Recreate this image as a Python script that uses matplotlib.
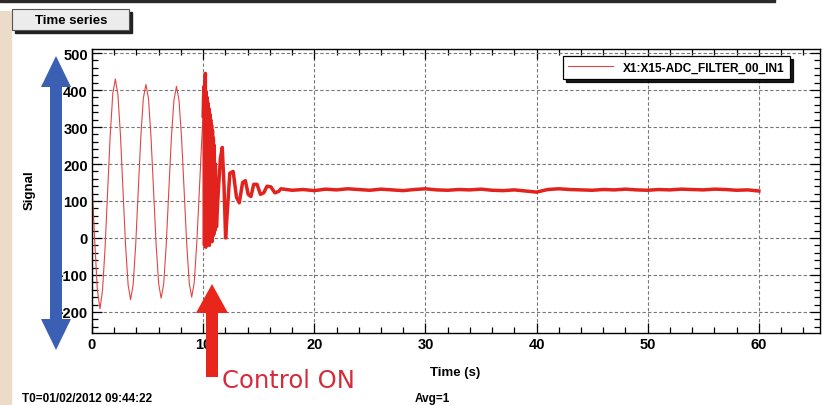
import matplotlib.pyplot as plt
from matplotlib.patches import Polygon, Rectangle
from matplotlib.ticker import MultipleLocator

plt.rcParams['font.family'] = ['Liberation Sans', 'DejaVu Sans']

# free oscillation before the controller is switched on
pre_t = [0.00, 0.24, 0.48, 0.72, 0.95, 1.18, 1.41, 1.64, 1.87, 2.10, 2.33, 2.56,
         2.79, 3.02, 3.25, 3.47, 3.70, 3.93, 4.16, 4.39, 4.62, 4.85, 5.08, 5.31,
         5.54, 5.77, 6.00, 6.22, 6.45, 6.68, 6.91, 7.14, 7.37, 7.60, 7.83, 8.06,
         8.29, 8.52, 8.75, 8.97, 9.20, 9.43, 9.66, 9.89, 10.00]
pre_v = [150, -5, -140, -192, -140, -25, 128, 278, 390, 430, 388, 278,
         128, -20, -127, -167, -127, -20, 128, 272, 378, 415, 378, 272,
         128, -18, -124, -163, -124, -18, 128, 270, 372, 410, 372, 270,
         128, -15, -122, -160, -120, -12, 130, 275, 330]

# transient after "Control ON"
trans_t = [10.00, 10.04, 10.08, 10.12, 10.16, 10.20, 10.24, 10.28, 10.32, 10.36,
           10.40, 10.44, 10.48, 10.52, 10.56, 10.60, 10.64, 10.68, 10.72, 10.76,
           10.80, 10.84, 10.88, 10.92, 10.96, 11.00, 11.05, 11.10, 11.20, 11.35,
           11.55, 11.72, 11.88, 12.02, 12.15, 12.40, 12.70, 13.00, 13.25, 13.55,
           13.80, 14.05, 14.30, 14.55, 14.85, 15.15, 15.45, 15.75, 16.10, 16.45,
           16.80]
trans_v = [330, 380, 410, -20, 405, 445, -25, 395, -20, 380,
           -15, 365, -10, 350, -20, 335, -5, 320, 0, 305,
           -10, 290, 5, 270, 10, 250, 20, 200, 30, 120,
           215, 245, 140, 0, 60, 175, 180, 110, 95, 150,
           155, 118, 112, 145, 145, 118, 122, 140, 138, 122,
           126]

# settled signal
steady_t = [17, 18, 19, 20, 21, 22, 23, 24, 25, 26, 27, 28, 29, 30, 31, 32, 33, 34,
            35, 36, 37, 38, 39, 40, 41, 42, 43, 44, 45, 46, 47, 48, 49, 50, 51, 52,
            53, 54, 55, 56, 57, 58, 59, 60]
steady_v = [133, 129, 131, 128, 132, 130, 133, 131, 129, 132, 130, 128, 131, 133,
            130, 129, 131, 130, 132, 129, 128, 130, 127, 124, 131, 133, 131, 130,
            129, 131, 130, 132, 130, 129, 131, 130, 132, 131, 130, 132, 131, 129,
            130, 127]

channel = "X1:X15-ADC_FILTER_00_IN1"
red = '#e2231d'

fig = plt.figure(figsize=(8.25, 4.06), dpi=100)
W, H = 825, 406
ax = fig.add_axes([92 / W, 1 - 334 / H, (820 - 92) / W, (334 - 50) / H])
ax.set_zorder(1)

ax.plot(pre_t, pre_v, color='#e24545', lw=0.8, label=channel)
ax.plot(trans_t + steady_t, trans_v + steady_v, color=red, lw=2.5, solid_joinstyle='round')

ax.set_xlim(0, 65.5)
ax.set_ylim(-257, 511)
ax.xaxis.set_major_locator(MultipleLocator(10))
ax.xaxis.set_minor_locator(MultipleLocator(2))
ax.yaxis.set_major_locator(MultipleLocator(100))
ax.yaxis.set_minor_locator(MultipleLocator(20))
ax.grid(True, which='major', color='#777777', lw=0.8, linestyle=(0, (3, 2)))
ax.tick_params(which='both', direction='in', top=True, right=True, width=0.9)
ax.tick_params(which='major', length=7, labelsize=10.5, pad=3)
ax.tick_params(which='minor', length=4)
for lab in ax.get_xticklabels() + ax.get_yticklabels():
    lab.set_fontweight('bold')
for sp in ax.spines.values():
    sp.set_linewidth(1.0)

leg = ax.legend(loc='upper left', bbox_to_anchor=(563 / W, 1 - 57 / H),
                bbox_transform=fig.transFigure, borderaxespad=0, fancybox=False,
                shadow={'color': 'black', 'alpha': 0.9}, handlelength=3.7,
                handletextpad=0.9, borderpad=0.45,
                prop={'size': 8.6, 'weight': 'bold'})
leg.get_frame().set_edgecolor('black')
leg.get_frame().set_linewidth(0.9)

# overlay in pixel coordinates for the slide decorations
ov = fig.add_axes([0, 0, 1, 1])
ov.set_zorder(2)
ov.set_xlim(0, W)
ov.set_ylim(H, 0)
ov.axis('off')
ov.patch.set_alpha(0)

ov.add_patch(Rectangle((0, 0), 775, 3, color='#2a2a2a'))
ov.add_patch(Rectangle((0, 12), 11, H - 12, color='#eadcc8'))

# "Time series" button
ov.add_patch(Rectangle((15, 13), 117, 21, color='#222222'))
ov.add_patch(Rectangle((12, 10), 117, 21, facecolor='#ececec', edgecolor='#555555', lw=0.8))
ov.text(71, 21, "Time series", ha='center', va='center', fontsize=9.5, fontweight='bold')

# blue double arrow next to the y axis
blue = Polygon([(56, 57), (71, 88), (62, 88), (62, 320), (71, 320), (56, 351),
                (41, 320), (50, 320), (50, 88), (41, 88)], closed=True,
               facecolor='#3b5fb3', edgecolor='none')
ov.add_patch(blue)

# red arrow at control switch-on
redarrow = Polygon([(212, 285), (228, 314), (218, 314), (218, 378), (206, 378),
                    (206, 314), (196, 314)], closed=True,
                   facecolor='#e8261c', edgecolor='none')
ov.add_patch(redarrow)
ov.text(222, 381, "Control ON", ha='left', va='center', fontsize=17.5,
        color='#d62a3a', family=['DejaVu Sans'])

ov.text(30, 190, "Signal", rotation=90, ha='center', va='center',
        fontsize=9.5, fontweight='bold')
ov.text(430, 373, "Time (s)", ha='left', va='center', fontsize=9.5, fontweight='bold')
ov.text(22, 399, "T0=01/02/2012 09:44:22", ha='left', va='center', fontsize=8.5,
        fontweight='bold')
ov.text(415, 399, "Avg=1", ha='left', va='center', fontsize=8.5, fontweight='bold')

fig.savefig('out.png', dpi=100)
